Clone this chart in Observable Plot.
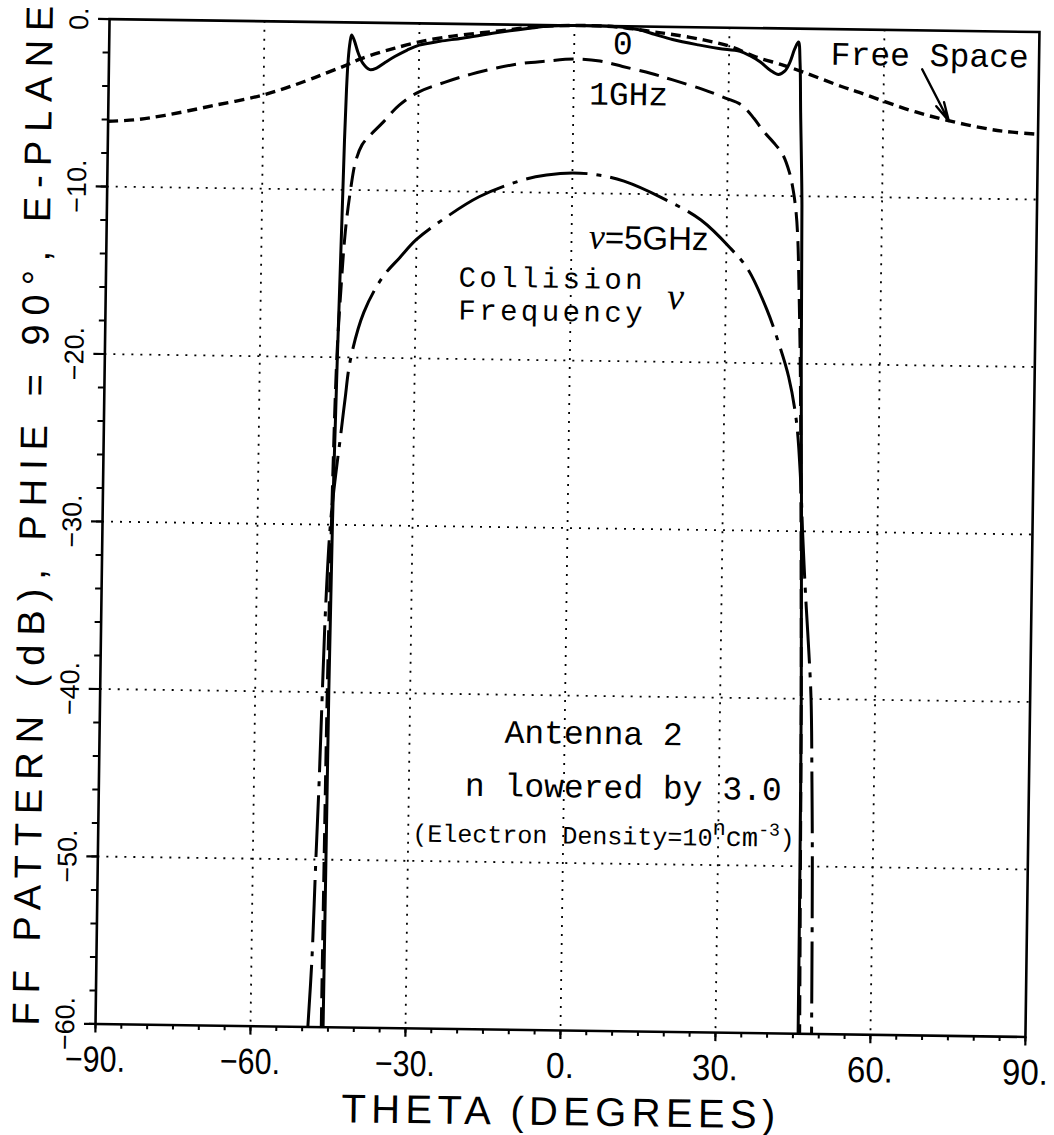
<!DOCTYPE html>
<html>
<head>
<meta charset="utf-8">
<script src="https://cdn.jsdelivr.net/npm/d3@7"></script>
<script src="https://cdn.jsdelivr.net/npm/@observablehq/plot@0.6"></script>
<style>
  html, body { margin: 0; padding: 0; background: #fff; overflow: hidden; }
  #chart { width: 1054px; height: 1135px; overflow: hidden; }
  #chart svg { transform: rotate(0.8deg); transform-origin: 567px 527px; }
</style>
</head>
<body>
<div id="chart"></div>
<script>
// Far-field E-plane pattern of Antenna 2 (phi = 90 deg), electron density
// lowered by 3.0 decades, for several electron collision frequencies.
// Each series: [theta (degrees), pattern (dB)]

const freeSpace = [
  [-90,-6.1],[-85,-6.0],[-79,-5.7],[-70,-5.1],[-60,-4.4],[-52,-3.55],[-47.6,-3.0],
  [-44,-2.55],[-41.2,-2.15],[-37.5,-1.75],[-34.7,-1.5],[-30,-1.1],[-25,-0.8],
  [-21.7,-0.65],[-15,-0.4],[-10,-0.2],[-5,-0.05],[0,0],[5,0],[10,-0.1],[15,-0.3],
  [19,-0.45],[25,-0.75],[30,-1.1],[35,-1.7],[40.6,-2.2],[44.5,-2.6],[51.7,-3.4],
  [55.3,-3.75],[60.4,-4.3],[66,-4.85],[72.4,-5.35],[80.8,-5.85],[85,-6.0],[90,-6.1]
];

// collision frequency 0
const nu0 = [
  [-45.95,-60],[-45.85,-50],[-45.75,-40],[-45.5,-30],[-45.0,-20],[-44.5,-12],
  [-44.2,-7],[-43.95,-4],[-43.7,-2.2],[-43.4,-1.2],[-43.1,-0.75],[-42.6,-1.05],
  [-41.8,-1.8],[-40.8,-2.45],[-39.5,-2.8],[-38.2,-2.7],[-36.5,-2.35],[-34.7,-2.0],
  [-32.3,-1.6],[-30,-1.3],[-26,-1.05],[-21.7,-0.85],[-15.2,-0.5],[-8.7,-0.2],
  [-4.8,-0.05],[0,0],[5,0],[9,-0.05],[12.5,-0.2],[15.5,-0.45],[19,-0.75],[24,-1.05],
  [28,-1.25],[32.1,-1.4],[34.3,-1.7],[36,-2.0],[38,-2.5],[39.6,-2.75],[40.8,-2.55],
  [41.8,-2.0],[42.7,-1.2],[43.4,-0.8],[43.75,-2.0],[44.0,-5],[44.5,-10.5],
  [44.8,-20],[45.3,-30],[45.7,-40],[45.9,-50],[46.0,-60]
];

// collision frequency 1 GHz
const nu1GHz = [
  [-46.3,-60],[-46.2,-50],[-46.05,-40],[-45.7,-30],[-45.1,-20],[-44.5,-16],
  [-43.8,-12.5],[-42.9,-10],[-42.0,-8.3],[-40.8,-7.3],[-39.5,-6.8],[-37,-6.0],
  [-33.7,-4.9],[-30,-4.1],[-25,-3.5],[-20,-3.0],[-15,-2.6],[-10,-2.3],[-5.5,-2.15],
  [0,-2.0],[5,-2.1],[9.4,-2.4],[15,-2.8],[19,-3.15],[25,-3.7],[29.4,-4.2],
  [32.5,-4.6],[35,-5.4],[36.7,-6.1],[38.8,-6.8],[40.6,-7.5],[42.0,-8.6],
  [42.8,-9.7],[43.4,-11],[43.8,-12.6],[44.1,-15],[44.6,-20],[45.2,-30],
  [45.7,-40],[46.0,-50],[46.3,-60]
];

// collision frequency 5 GHz
const nu5GHz = [
  [-48.9,-60],[-48.3,-56],[-47.8,-50],[-47.35,-45],[-47.0,-40],[-46.6,-35],
  [-45.9,-30],[-45.0,-27],[-44.2,-24.8],[-43.4,-22.5],[-42.5,-20.2],[-40.0,-17.3],
  [-36.5,-15.2],[-33.2,-14.0],[-30,-12.9],[-25,-11.7],[-18,-10.3],[-10,-9.3],
  [-5,-8.95],[0,-8.8],[5,-8.9],[10,-9.25],[17.3,-10.2],[25,-11.5],[30.9,-13.2],
  [34.2,-14.4],[38,-16.8],[40.5,-18.9],[42.4,-20.8],[44.0,-23.4],[45.0,-27],
  [45.5,-30],[46.3,-34],[47.0,-37],[47.6,-40],[48.0,-45],[48.3,-50],[48.6,-60]
];

const xTicks = [-90, -60, -30, 0, 30, 60, 90];
const xTickLabels = ["\u221290.", "\u221260.", "\u221230.", "0.", "30.", "60.", "90."];
const yTicks = [0, -10, -20, -30, -40, -50, -60];
const yTickLabels = ["0.", "\u221210.", "\u221220.", "\u221230.", "\u221240.", "\u221250.", "\u221260."];

const xTitle = "THETA (DEGREES)";
const yTitle = "FF PATTERN (dB), PHIE = 90\u00B0, E-PLANE";

// in-plot annotations: [theta, dB, text]
const curveNotes = [
  [9.39, -1.66, "0"],
  [10.67, -4.70, "1GHz"],
  [68.83, -2.12, "Free Space"]
];
const infoNotes = [
  [5.62, -42.87, "Antenna 2"],
  [11.5, -46.07, "n lowered by 3.0"]
];
const densityNote = [7.82, -48.84, "(Electron Density=10ncm-3)"];
const collisionNotes = [
  [-21.74, -15.67, "Collision"],
  [-21.68, -17.64, "Frequency"]
];
const nuSymbol = [20.31, -16.85, "\u03BD"];
const nu5Label = [14.92, -13.30, "\u03BD=5GHz"];
const freeSpaceArrow = [67.4, -2.32, 72.7, -5.39];

const mono = "'Courier New', 'Nimbus Mono PS', 'Liberation Mono', monospace";
const narrow = "'Liberation Sans Narrow', 'Arial Narrow', 'Liberation Sans', sans-serif";
const sans = "'Liberation Sans', Arial, 'DejaVu Sans', sans-serif";

const seriesStyles = [
  {points: freeSpace, strokeWidth: 3.4, dash: "10,6"},
  {points: nu0, strokeWidth: 3, dash: null},
  {points: nu1GHz, strokeWidth: 3, dash: "20,9"},
  {points: nu5GHz, strokeWidth: 3, dash: "62,9,5,9"}
];

const chart = Plot.plot({
  width: 1054,
  height: 1135,
  marginLeft: 102,
  marginRight: 22,
  marginTop: 25,
  marginBottom: 105,
  style: {background: "white", overflow: "visible", color: "black"},
  x: {domain: [-90, 90], axis: null},
  y: {domain: [-60, 0], axis: null},
  marks: [
    Plot.gridX([-60, -30, 0, 30, 60], {stroke: "black", strokeOpacity: 1, strokeWidth: 1.8, strokeDasharray: "2,7"}),
    Plot.gridY([-10, -20, -30, -40, -50], {stroke: "black", strokeOpacity: 1, strokeWidth: 1.8, strokeDasharray: "2,7"}),
    Plot.axisX(d3.range(-90, 91, 5), {anchor: "bottom", tickSize: 5, tickFormat: () => "", strokeWidth: 2, label: null}),
    Plot.axisX(d3.range(-90, 91, 30), {anchor: "bottom", tickSize: 9, tickFormat: () => "", strokeWidth: 2.2, label: null}),
    Plot.axisY(d3.range(-60, 1, 2), {anchor: "left", tickSize: 6, tickFormat: () => "", strokeWidth: 2, label: null}),
    Plot.axisY(d3.range(-60, 1, 10), {anchor: "left", tickSize: 11, tickFormat: () => "", strokeWidth: 2.2, label: null}),
    ...seriesStyles.map(s => Plot.line(s.points, {
      x: d => d[0], y: d => d[1], stroke: "black", strokeWidth: s.strokeWidth,
      strokeDasharray: s.dash, curve: "catmull-rom", strokeLinecap: "butt"
    })),
    Plot.frame({stroke: "black", strokeWidth: 2.6}),
    // tick labels
    Plot.text(xTicks, {x: d => d, frameAnchor: "bottom", dy: 36, lineAnchor: "middle",
      textAnchor: "middle", text: (d, i) => xTickLabels[i], fontSize: 36, fontFamily: narrow}),
    Plot.text(yTicks, {y: d => d, frameAnchor: "left", dx: -30, rotate: -90, lineAnchor: "middle",
      textAnchor: "middle", text: (d, i) => yTickLabels[i], fontSize: 27, fontFamily: narrow}),
    // axis titles
    Plot.text([xTitle], {frameAnchor: "bottom", dx: -1, dy: 82, lineAnchor: "middle",
      textAnchor: "middle", text: d => d, fontSize: 40, fontFamily: sans}),
    Plot.text([yTitle], {frameAnchor: "left", dx: -69, dy: -5, rotate: -90, lineAnchor: "middle",
      textAnchor: "middle", text: d => d, fontSize: 38, fontFamily: sans}),
    // annotations
    Plot.text(curveNotes, {x: d => d[0], y: d => d[1], text: d => d[2], lineAnchor: "bottom",
      fontSize: 33, fontFamily: mono}),
    Plot.text(infoNotes, {x: d => d[0], y: d => d[1], text: d => d[2], lineAnchor: "bottom",
      fontSize: 33, fontFamily: mono}),
    Plot.text([densityNote], {x: d => d[0], y: d => d[1], text: d => d[2], lineAnchor: "bottom",
      fontSize: 25, fontFamily: mono}),
    Plot.text(collisionNotes, {x: d => d[0], y: d => d[1], text: d => d[2], lineAnchor: "bottom",
      textAnchor: "start", fontSize: 29, fontFamily: mono}),
    Plot.text([nuSymbol], {x: d => d[0], y: d => d[1], text: d => d[2], lineAnchor: "bottom",
      fontSize: 38, fontStyle: "italic", fontFamily: "'Liberation Serif', 'DejaVu Serif', serif"}),
    Plot.text([nu5Label], {x: d => d[0], y: d => d[1], text: d => d[2], lineAnchor: "bottom",
      fontSize: 33, fontFamily: sans}),
    Plot.arrow([freeSpaceArrow], {x1: d => d[0], y1: d => d[1], x2: d => d[2], y2: d => d[3],
      stroke: "black", strokeWidth: 2.4, headLength: 20, headAngle: 26})
  ]
});

document.getElementById("chart").appendChild(chart);

// condensed widths for the horizontal tick labels
const xLabelWidth = {"\u221290.": 60, "\u221260.": 60, "\u221230.": 60, "0.": 28, "30.": 46, "60.": 46, "90.": 46};

// typographic touches: spaced axis titles, superscripts, italic nu
chart.querySelectorAll("text").forEach(t => {
  const s = t.textContent;
  const rotated = (t.getAttribute("transform") || "").includes("rotate") ||
    ((t.parentNode && t.parentNode.getAttribute("transform")) || "").includes("rotate");
  if (s === xTitle) {
    t.setAttribute("textLength", 434);
    t.setAttribute("lengthAdjust", "spacing");
  } else if (s === yTitle) {
    t.setAttribute("textLength", 1020);
    t.setAttribute("lengthAdjust", "spacing");
  } else if (s === collisionNotes[0][2] || s === collisionNotes[1][2]) {
    t.setAttribute("textLength", 184);
    t.setAttribute("lengthAdjust", "spacing");
  } else if (xLabelWidth[s] && !rotated) {
    t.setAttribute("textLength", xLabelWidth[s]);
    t.setAttribute("lengthAdjust", "spacingAndGlyphs");
  } else if (s === densityNote[2]) {
    t.textContent = "";
    const parts = [
      ["(Electron Density=10", null, null],
      ["n", -11, 22],
      ["cm", 11, 27],
      ["-3", -11, 18],
      [")", 11, 25]
    ];
    parts.forEach(([str, dy, size]) => {
      const ts = document.createElementNS("http://www.w3.org/2000/svg", "tspan");
      ts.textContent = str;
      if (dy !== null) ts.setAttribute("dy", dy);
      if (size !== null) ts.setAttribute("font-size", size);
      t.appendChild(ts);
    });
  } else if (s === nu5Label[2]) {
    t.textContent = "";
    const nu = document.createElementNS("http://www.w3.org/2000/svg", "tspan");
    nu.textContent = "\u03BD";
    nu.setAttribute("font-style", "italic");
    nu.setAttribute("font-family", "'Liberation Serif', 'DejaVu Serif', serif");
    nu.setAttribute("font-size", 36);
    const rest = document.createElementNS("http://www.w3.org/2000/svg", "tspan");
    rest.textContent = "=5GHz";
    t.appendChild(nu);
    t.appendChild(rest);
  }
});
</script>
</body>
</html>
